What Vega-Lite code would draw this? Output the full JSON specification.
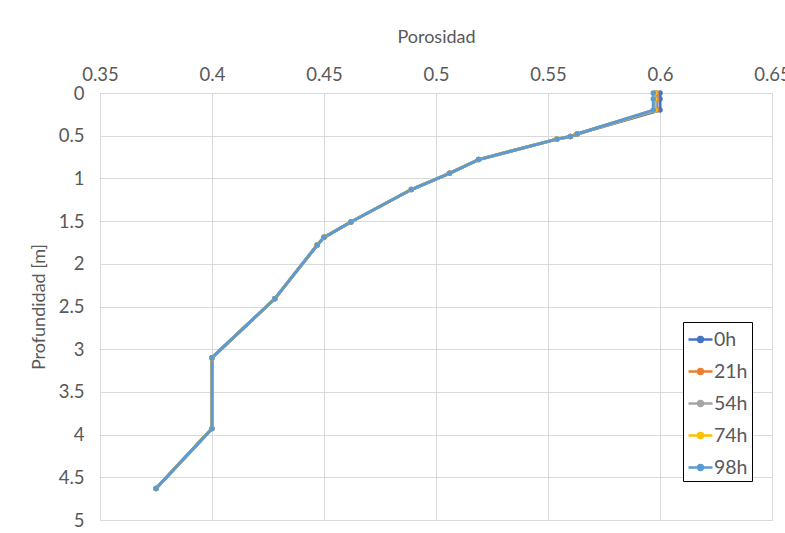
{
  "$schema": "https://vega.github.io/schema/vega-lite/v6.json",
  "autosize": {"type": "none"},
  "width": 672,
  "height": 427,
  "padding": {"left": 100, "top": 93, "right": 13, "bottom": 13},
  "background": "white",
  "datasets": {
    "pts": [
      {"serie": "0h", "p": 0.6, "d": 0}, {"serie": "0h", "p": 0.6, "d": 0.07}, {"serie": "0h", "p": 0.6, "d": 0.2},
      {"serie": "0h", "p": 0.563, "d": 0.48}, {"serie": "0h", "p": 0.56, "d": 0.51}, {"serie": "0h", "p": 0.554, "d": 0.54},
      {"serie": "0h", "p": 0.519, "d": 0.78}, {"serie": "0h", "p": 0.506, "d": 0.94}, {"serie": "0h", "p": 0.489, "d": 1.13},
      {"serie": "0h", "p": 0.462, "d": 1.51}, {"serie": "0h", "p": 0.45, "d": 1.69}, {"serie": "0h", "p": 0.447, "d": 1.78},
      {"serie": "0h", "p": 0.428, "d": 2.41}, {"serie": "0h", "p": 0.4, "d": 3.1}, {"serie": "0h", "p": 0.4, "d": 3.93},
      {"serie": "0h", "p": 0.375, "d": 4.63},
      {"serie": "21h", "p": 0.5985, "d": 0}, {"serie": "21h", "p": 0.5985, "d": 0.07}, {"serie": "21h", "p": 0.5985, "d": 0.2},
      {"serie": "21h", "p": 0.563, "d": 0.48}, {"serie": "21h", "p": 0.56, "d": 0.51}, {"serie": "21h", "p": 0.554, "d": 0.54},
      {"serie": "21h", "p": 0.519, "d": 0.78}, {"serie": "21h", "p": 0.506, "d": 0.94}, {"serie": "21h", "p": 0.489, "d": 1.13},
      {"serie": "21h", "p": 0.462, "d": 1.51}, {"serie": "21h", "p": 0.45, "d": 1.69}, {"serie": "21h", "p": 0.447, "d": 1.78},
      {"serie": "21h", "p": 0.428, "d": 2.41}, {"serie": "21h", "p": 0.4, "d": 3.1}, {"serie": "21h", "p": 0.4, "d": 3.93},
      {"serie": "21h", "p": 0.375, "d": 4.63},
      {"serie": "54h", "p": 0.598, "d": 0}, {"serie": "54h", "p": 0.598, "d": 0.07}, {"serie": "54h", "p": 0.598, "d": 0.2},
      {"serie": "54h", "p": 0.563, "d": 0.48}, {"serie": "54h", "p": 0.56, "d": 0.51}, {"serie": "54h", "p": 0.554, "d": 0.54},
      {"serie": "54h", "p": 0.519, "d": 0.78}, {"serie": "54h", "p": 0.506, "d": 0.94}, {"serie": "54h", "p": 0.489, "d": 1.13},
      {"serie": "54h", "p": 0.462, "d": 1.51}, {"serie": "54h", "p": 0.45, "d": 1.69}, {"serie": "54h", "p": 0.447, "d": 1.78},
      {"serie": "54h", "p": 0.428, "d": 2.41}, {"serie": "54h", "p": 0.4, "d": 3.1}, {"serie": "54h", "p": 0.4, "d": 3.93},
      {"serie": "54h", "p": 0.375, "d": 4.63},
      {"serie": "74h", "p": 0.5975, "d": 0}, {"serie": "74h", "p": 0.5975, "d": 0.07}, {"serie": "74h", "p": 0.5975, "d": 0.2},
      {"serie": "74h", "p": 0.563, "d": 0.48}, {"serie": "74h", "p": 0.56, "d": 0.51}, {"serie": "74h", "p": 0.554, "d": 0.54},
      {"serie": "74h", "p": 0.519, "d": 0.78}, {"serie": "74h", "p": 0.506, "d": 0.94}, {"serie": "74h", "p": 0.489, "d": 1.13},
      {"serie": "74h", "p": 0.462, "d": 1.51}, {"serie": "74h", "p": 0.45, "d": 1.69}, {"serie": "74h", "p": 0.447, "d": 1.78},
      {"serie": "74h", "p": 0.428, "d": 2.41}, {"serie": "74h", "p": 0.4, "d": 3.1}, {"serie": "74h", "p": 0.4, "d": 3.93},
      {"serie": "74h", "p": 0.375, "d": 4.63},
      {"serie": "98h", "p": 0.597, "d": 0}, {"serie": "98h", "p": 0.597, "d": 0.07}, {"serie": "98h", "p": 0.597, "d": 0.2},
      {"serie": "98h", "p": 0.563, "d": 0.48}, {"serie": "98h", "p": 0.56, "d": 0.51}, {"serie": "98h", "p": 0.554, "d": 0.54},
      {"serie": "98h", "p": 0.519, "d": 0.78}, {"serie": "98h", "p": 0.506, "d": 0.94}, {"serie": "98h", "p": 0.489, "d": 1.13},
      {"serie": "98h", "p": 0.462, "d": 1.51}, {"serie": "98h", "p": 0.45, "d": 1.69}, {"serie": "98h", "p": 0.447, "d": 1.78},
      {"serie": "98h", "p": 0.428, "d": 2.41}, {"serie": "98h", "p": 0.4, "d": 3.1}, {"serie": "98h", "p": 0.4, "d": 3.93},
      {"serie": "98h", "p": 0.375, "d": 4.63}
    ]
  },
  "data": {"name": "pts"},
  "encoding": {
    "x": {
      "field": "p", "type": "quantitative",
      "scale": {"domain": [0.35, 0.65], "nice": false, "zero": false},
      "axis": {
        "orient": "top", "title": "Porosidad", "values": [0.35, 0.4, 0.45, 0.5, 0.55, 0.6, 0.65],
        "format": "~g", "tickSize": 0, "labelPadding": 9, "titlePadding": 19,
        "domain": false, "grid": true, "gridColor": "#D9D9D9", "gridWidth": 1,
        "labelFontSize": 18.5, "titleFontSize": 18, "titleFontWeight": "normal",
        "labelColor": "#595959", "titleColor": "#595959", "labelFont": "Lato", "titleFont": "Lato",
        "labelFlush": false, "labelOverlap": false
      }
    },
    "y": {
      "field": "d", "type": "quantitative",
      "scale": {"domain": [0, 5], "reverse": true, "nice": false},
      "axis": {
        "title": "Profundidad [m]", "values": [0, 0.5, 1, 1.5, 2, 2.5, 3, 3.5, 4, 4.5, 5],
        "format": "~g", "tickSize": 0, "labelPadding": 16, "titlePadding": 10,
        "domain": false, "grid": true, "gridColor": "#D9D9D9", "gridWidth": 1,
        "labelFontSize": 18.5, "titleFontSize": 18, "titleFontWeight": "normal",
        "labelColor": "#595959", "titleColor": "#595959", "labelFont": "Lato", "titleFont": "Lato",
        "labelFlush": false, "labelOverlap": false
      }
    },
    "color": {
      "field": "serie", "type": "nominal",
      "sort": ["0h", "21h", "54h", "74h", "98h"],
      "scale": {"domain": ["0h", "21h", "54h", "74h", "98h"], "range": ["#4472C4", "#ED7D31", "#A5A5A5", "#FFC000", "#5B9BD5"]},
      "legend": {
        "title": null, "orient": "none", "legendX": 583, "legendY": 229,
        "strokeColor": "#000000", "fillColor": "white", "padding": 4,
        "symbolType": "M-1,0H1M-0.2,0A0.2,0.2,0,1,0,0.2,0A0.2,0.2,0,1,0,-0.2,0",
        "symbolSize": 576, "symbolStrokeWidth": 2.5, "rowPadding": 9,
        "labelFontSize": 19.5, "labelColor": "#595959", "labelFont": "Lato", "labelOffset": 0,
        "offset": 0
      }
    },
    "order": {"field": "d", "type": "quantitative"}
  },
  "layer": [
    {"mark": {"type": "line", "strokeWidth": 3}},
    {"mark": {"type": "point", "filled": true, "size": 30, "opacity": 1}}
  ],
  "config": {
    "view": {"stroke": null}
  }
}
